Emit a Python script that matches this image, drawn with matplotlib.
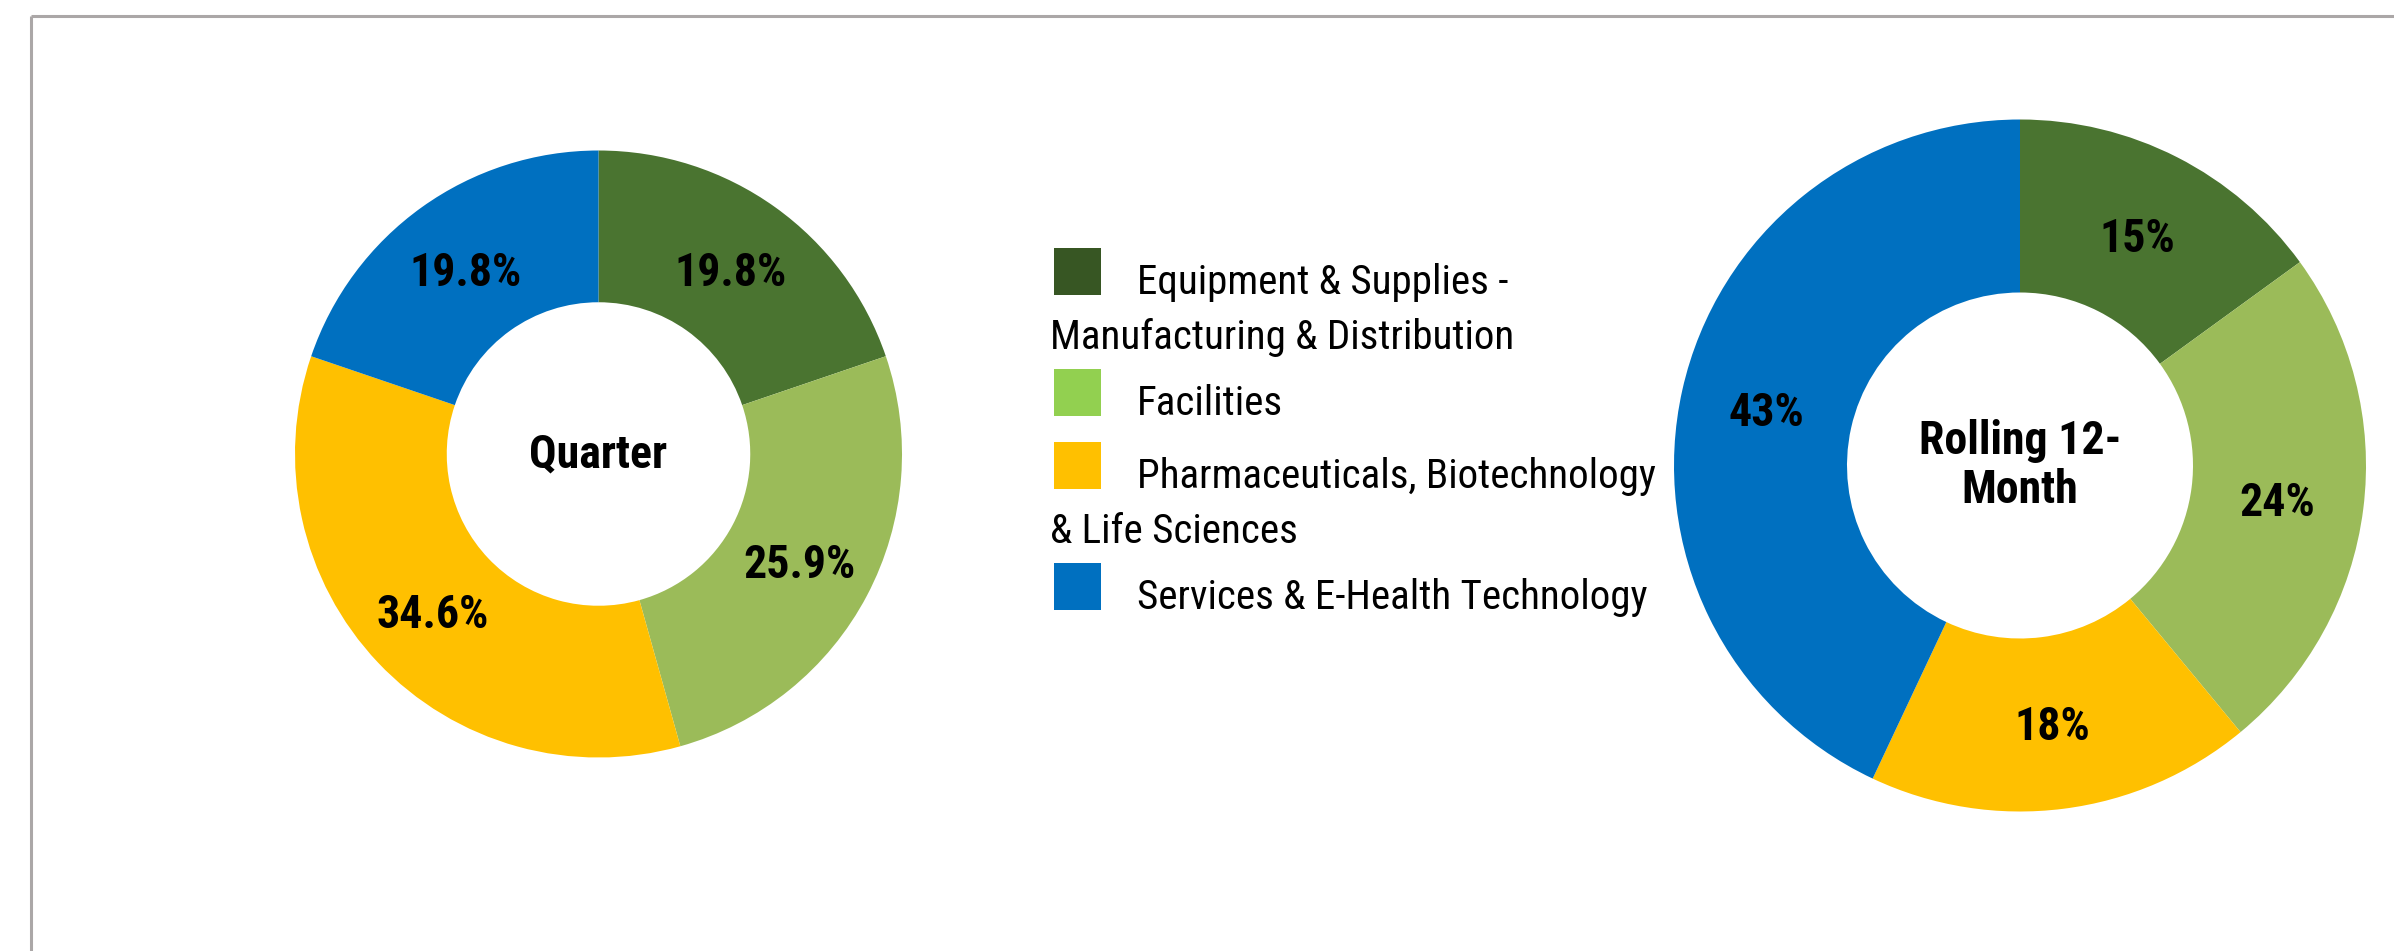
import matplotlib
matplotlib.use('Agg')
import matplotlib.pyplot as plt
from matplotlib import font_manager
from matplotlib.patches import Rectangle

# Data
categories = ['Equipment & Supplies -\nManufacturing & Distribution',
              'Facilities',
              'Pharmaceuticals, Biotechnology\n& Life Sciences',
              'Services & E-Health Technology']
quarter = [19.8, 25.9, 34.6, 19.8]
rolling = [15, 24, 18, 43]
pie_colors = ['#4A7430', '#9BBB59', '#FFC000', '#0070C0']
legend_colors = ['#375623', '#92D050', '#FFC000', '#0070C0']

W, H = 2394, 951

# narrow sans similar to Arial Narrow
names = {f.name for f in font_manager.fontManager.ttflist}
FONT = 'Liberation Sans'
for cand in ['Liberation Sans Narrow', 'Roboto Condensed', 'PT Sans Narrow']:
    if cand in names:
        FONT = cand
        break

fig = plt.figure(figsize=(W / 100, H / 100), dpi=100)
fig.patch.set_facecolor('white')


def donut(cx, cy, r, values, fmt, center_text):
    # axes sized so that radius 1 in data == r pixels
    ax = fig.add_axes([(cx - r) / W, (H - cy - r) / H, 2 * r / W, 2 * r / H])
    wedges, texts, pcts = ax.pie(values, colors=pie_colors, startangle=90, counterclock=False,
                                 autopct=fmt, pctdistance=0.75,
                                 wedgeprops=dict(width=0.5, edgecolor='none', linewidth=0),
                                 textprops=dict(fontsize=33, fontweight='bold', family=FONT,
                                                color='black'))
    for t in pcts:
        t.set_va('center_baseline')
    ax.set_xlim(-1, 1)
    ax.set_ylim(-1, 1)
    ax.set_aspect('equal')
    ax.axis('off')
    ax.text(0, 0, center_text, ha='center', va='center', fontsize=33,
            fontweight='bold', family=FONT, linespacing=1.15)
    return ax


donut(598.5, 454, 303.5, quarter, '%.1f%%', 'Quarter')
donut(2020, 465.5, 346, rolling, '%.0f%%', 'Rolling 12-\nMonth')

# overlay in pixel coordinates for legend and frame
lax = fig.add_axes([0, 0, 1, 1])
lax.set_xlim(0, W)
lax.set_ylim(H, 0)
lax.axis('off')

lax.plot([31, W + 5], [16, 16], color='#ABA7A7', lw=2.2, solid_capstyle='butt')
lax.plot([31, 31], [16, H + 5], color='#ABA7A7', lw=2.2, solid_capstyle='butt')

top = 248
sq = 47
for label, col in zip(categories, legend_colors):
    lines = label.split('\n')
    lax.add_patch(Rectangle((1054, top), sq, sq, facecolor=col, edgecolor='none'))
    for k, line in enumerate(lines):
        x = 1137 if k == 0 else 1050
        lax.text(x, top + sq - 1 + 55 * k, line, ha='left', va='baseline',
                 fontsize=29.5, family=FONT, color='black')
    top += 48 * len(lines) + 25

fig.savefig('out.png', dpi=100)
